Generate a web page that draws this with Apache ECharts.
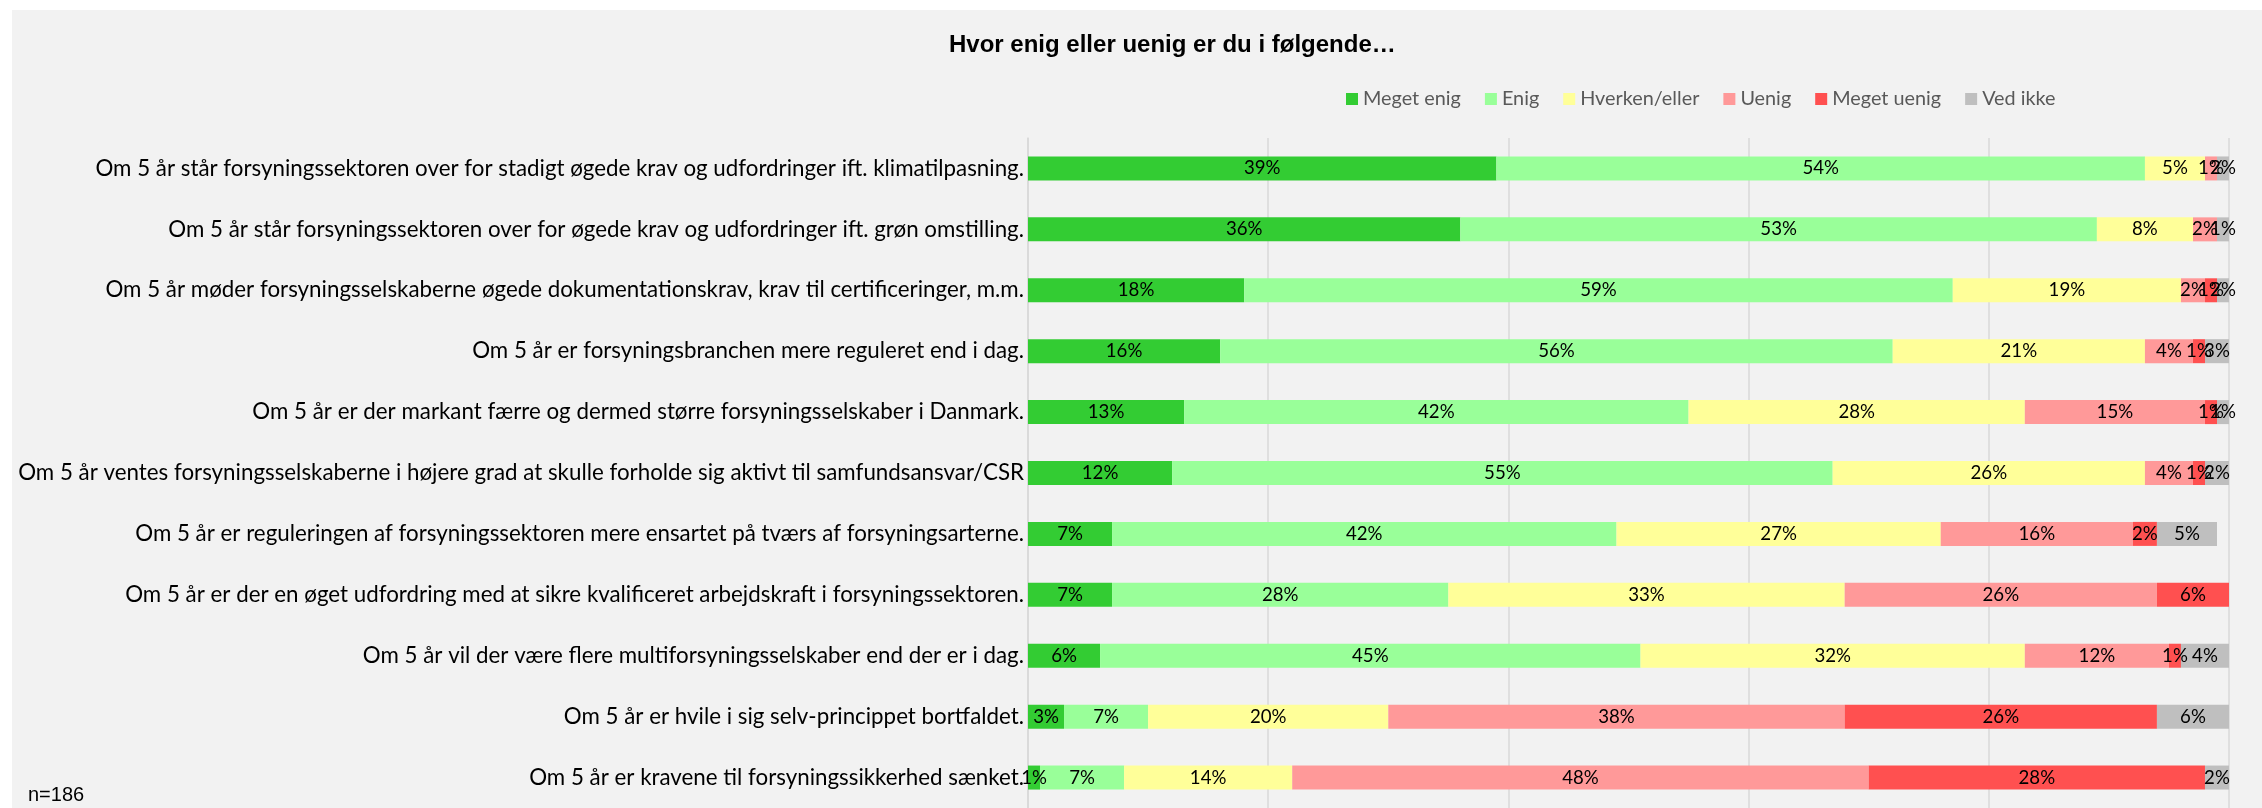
<!DOCTYPE html>
<html>
<head>
<meta charset="utf-8">
<script src="https://cdn.jsdelivr.net/npm/echarts@6/dist/echarts.min.js"></script>
<style>
html,body{margin:0;padding:0;background:#ffffff;}
#chart{width:2262px;height:808px;}
</style>
</head>
<body>
<div id="chart"></div>
<script>
const categories = [
  "Om 5 år står forsyningssektoren over for stadigt øgede krav og udfordringer ift. klimatilpasning.",
  "Om 5 år står forsyningssektoren over for øgede krav og udfordringer ift. grøn omstilling.",
  "Om 5 år møder forsyningsselskaberne øgede dokumentationskrav, krav til certificeringer, m.m.",
  "Om 5 år er forsyningsbranchen mere reguleret end i dag.",
  "Om 5 år er der markant færre og dermed større forsyningsselskaber i Danmark.",
  "Om 5 år ventes forsyningsselskaberne i højere grad at skulle forholde sig aktivt til samfundsansvar/CSR",
  "Om 5 år er reguleringen af forsyningssektoren mere ensartet på tværs af forsyningsarterne.",
  "Om 5 år er der en øget udfordring med at sikre kvalificeret arbejdskraft i forsyningssektoren.",
  "Om 5 år vil der være flere multiforsyningsselskaber end der er i dag.",
  "Om 5 år er hvile i sig selv-princippet bortfaldet.",
  "Om 5 år er kravene til forsyningssikkerhed sænket."
];
const seriesNames = ["Meget enig", "Enig", "Hverken/eller", "Uenig", "Meget uenig", "Ved ikke"];
const megetEnig  = [39, 36, 18, 16, 13, 12, 7, 7, 6, 3, 1];
const enig       = [54, 53, 59, 56, 42, 55, 42, 28, 45, 7, 7];
const hverken    = [5, 8, 19, 21, 28, 26, 27, 33, 32, 20, 14];
const uenig      = [1, 2, 2, 4, 15, 4, 16, 26, 12, 38, 48];
const megetUenig = [0, 0, 1, 1, 1, 1, 2, 6, 1, 26, 28];
const vedIkke    = [2, 1, 2, 3, 1, 2, 5, 0, 4, 6, 2];
const titleText = "Hvor enig eller uenig er du i følgende…";
const noteText = "n=186";

const colors = ["#33cc33", "#99ff99", "#ffff99", "#ff9999", "#ff5050", "#bfbfbf"];
const values = [megetEnig, enig, hverken, uenig, megetUenig, vedIkke];

const FONT = "Lato";
const mctx = document.createElement("canvas").getContext("2d");
function fit(text, family, target, weight) {
  mctx.font = (weight || "normal") + " 100px " + family;
  return 100 * target / mctx.measureText(text).width;
}
const catSize = fit(categories[0], FONT, 929);
const dataSize = fit("39%", FONT, 36.6);
const legendSize = fit("Meget enig", FONT, 98);

const chart = echarts.init(document.getElementById("chart"), null, {renderer: "canvas"});
const option = {
  backgroundColor: "#ffffff",
  animation: false,
  graphic: [
    {type: "rect", shape: {x: 12, y: 10, width: 2250, height: 798}, style: {fill: "#f2f2f2"}, z: -10, silent: true},
    {type: "text", left: 28, top: 785, style: {text: noteText, font: "20px 'Liberation Sans', Arial, sans-serif", fill: "#000000"}, z: 10}
  ],
  title: {
    text: titleText,
    left: 944,
    top: 28,
    textStyle: {fontFamily: "Liberation Sans, Arial, sans-serif", fontWeight: "bold", fontSize: 24, color: "#000000"}
  },
  legend: {
    data: seriesNames,
    left: 1341,
    top: 84,
    icon: "rect",
    itemWidth: 12,
    itemHeight: 12,
    itemGap: 24,
    textStyle: {fontFamily: FONT, fontSize: legendSize, color: "#595959"}
  },
  grid: {left: 1028, top: 138, width: 1201, height: 673, containLabel: false},
  xAxis: {
    type: "value", min: 0, max: 100, interval: 20,
    axisLabel: {show: false}, axisLine: {show: false}, axisTick: {show: false},
    splitLine: {show: true, lineStyle: {color: "#d9d9d9", width: 1.5}}
  },
  yAxis: {
    type: "category", inverse: true, data: categories,
    axisTick: {show: false},
    axisLine: {show: true, lineStyle: {color: "#d9d9d9", width: 1.5}},
    axisLabel: {fontFamily: FONT, fontSize: catSize, color: "#000000", margin: 4}
  },
  series: seriesNames.map((name, i) => ({
    name: name,
    type: "bar",
    stack: "total",
    barWidth: 24,
    clip: true,
    itemStyle: {color: colors[i]},
    label: {
      show: true, position: "inside", color: "#000000",
      fontFamily: FONT, fontSize: dataSize,
      formatter: p => (p.value > 0 ? p.value + "%" : "")
    },
    data: values[i]
  }))
};
chart.setOption(option);
</script>
</body>
</html>
